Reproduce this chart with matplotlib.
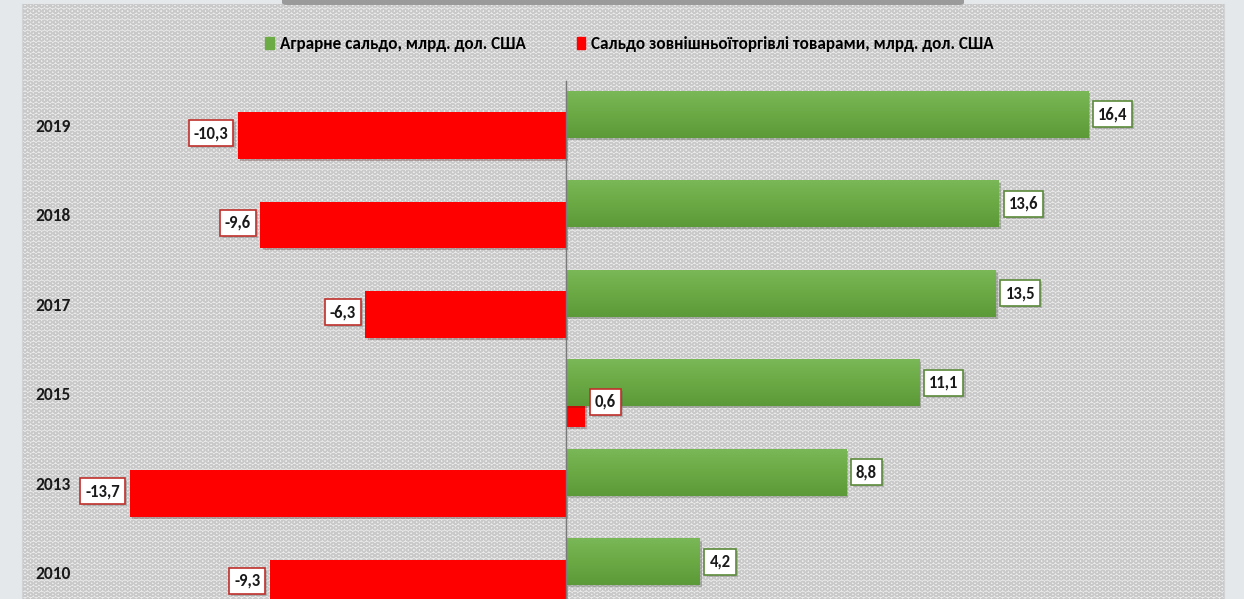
import numpy as np
import matplotlib.pyplot as plt
from matplotlib.patches import Rectangle, FancyBboxPatch, Patch
from matplotlib.colors import LinearSegmentedColormap
import matplotlib.patheffects as pe

plt.rcParams['font.family'] = ['Carlito', 'DejaVu Sans']
plt.rcParams['hatch.linewidth'] = 1.0

years = ['2019', '2018', '2017', '2015', '2013', '2010']
agro_balance = [16.4, 13.6, 13.5, 11.1, 8.8, 4.2]
trade_balance = [-10.3, -9.6, -6.3, 0.6, -13.7, -9.3]

agro_name = 'Аграрне сальдо, млрд. дол. США'
trade_name = 'Сальдо зовнішньоїторгівлі товарами, млрд. дол. США'

green = '#6dab47'
red = '#ff0000'
green_grad = LinearSegmentedColormap.from_list('g', ['#7ab757', '#6aa944', '#5c9a39'])

def fmt(v):
    return ('%.1f' % v).replace('.', ',')

fig = plt.figure(figsize=(12.44, 5.99), dpi=100)
fig.patch.set_facecolor('#e4e8ea')
ax = fig.add_axes([22 / 1244, 0, 1202 / 1244, 595 / 599])

# patterned background
ax.patch.set_facecolor('#ebebeb')
bg = Rectangle((0, 0), 1, 1, transform=ax.transAxes, facecolor='none',
               edgecolor='#c9c9c9', hatch='OOO', lw=0, zorder=0)
ax.add_patch(bg)

pos = np.arange(len(years))
h = 0.52
g_bars = ax.barh(pos - 0.12, agro_balance, height=h, color=green, zorder=3)
r_bars = ax.barh(pos + 0.115, trade_balance, height=h, color=red, zorder=2)
shadow = [pe.SimplePatchShadow(offset=(1.5, -1.5), alpha=0.25), pe.Normal()]
for b in list(g_bars) + list(r_bars):
    b.set_path_effects(shadow)

# vertical gradient on the green bars (lighter on top)
grad = np.linspace(0, 1, 64).reshape(-1, 1)
for b in g_bars:
    x0, y0 = b.get_x(), b.get_y()
    im = ax.imshow(grad, cmap=green_grad, aspect='auto', zorder=3.5,
                   extent=(x0, x0 + b.get_width(), y0 + b.get_height(), y0))
    im.set_clip_path(b)

ax.axvline(0, ymin=0, ymax=0.87, color='#7a7a7a', lw=1, zorder=4)

lab_font = dict(fontsize=12, fontweight='bold', color='#1a1a1a')
labels = []
for i, v in enumerate(agro_balance):
    labels.append(ax.annotate(fmt(v), (v, pos[i] - 0.12), xytext=(7, 0), textcoords='offset points',
                              ha='left', va='center', zorder=6,
                              bbox=dict(boxstyle='square,pad=0.3', fc='white', ec='#5b8a3a', lw=1.2),
                              **lab_font))
for i, v in enumerate(trade_balance):
    off = 7 if v > 0 else -7
    labels.append(ax.annotate(fmt(v), (v, pos[i] + 0.09), xytext=(off, 0), textcoords='offset points',
                              ha='left' if v > 0 else 'right', va='center', zorder=6,
                              bbox=dict(boxstyle='square,pad=0.3', fc='white', ec='#c0302b', lw=1.2),
                              **lab_font))
for t in labels:
    t.get_bbox_patch().set_path_effects(shadow)

ax.set_xlim(-17.09, 20.67)
ax.set_ylim(5.296, -1.352)
ax.set_xticks([])
ax.set_yticks(pos, years, fontsize=12.5, fontweight='bold', ha='left', color='#1a1a1a')
ax.tick_params(axis='y', length=0, pad=-9.5)
for s in ['top', 'bottom']:
    ax.spines[s].set_visible(False)
for s in ['left', 'right']:
    ax.spines[s].set_color('#d0d4d6')

handles = [Patch(color=green), Patch(color=red)]
fig.legend(handles, [agro_name, trade_name], loc='center', ncol=2,
           bbox_to_anchor=(0.506, 0.927), frameon=False,
           prop=dict(size=12.3, weight='bold'),
           handlelength=0.5, handleheight=0.75, handletextpad=0.35, columnspacing=3.0)

# shadow of the title box above the chart
fig.patches.append(FancyBboxPatch((282 / 1244, 594 / 599), 682 / 1244, 10 / 599,
                                  boxstyle='round,pad=0,rounding_size=0.004',
                                  transform=fig.transFigure, fc='#9a9a9a', ec='none'))

fig.savefig('out.png', dpi=100, facecolor=fig.get_facecolor())
